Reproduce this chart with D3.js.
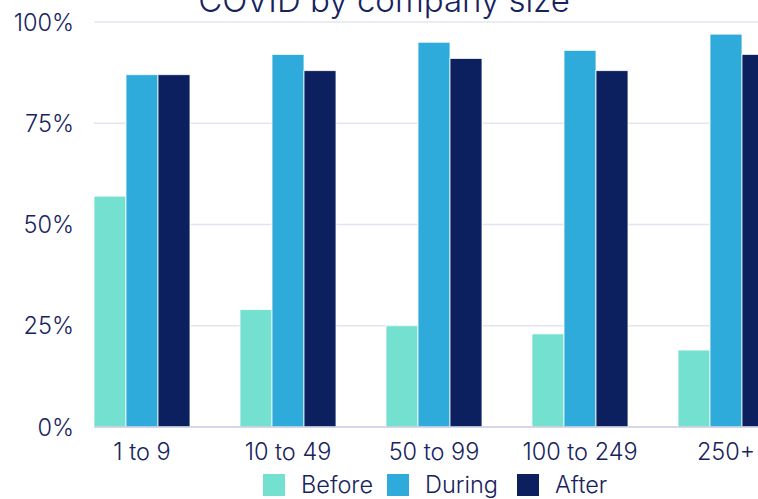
<!DOCTYPE html>
<html>
<head>
<meta charset="utf-8">
<script src="https://cdn.jsdelivr.net/npm/d3@7"></script>
<style>
  html, body { margin: 0; padding: 0; background: #ffffff; }
  svg { display: block; }
  text { font-family: Inter, Lato, sans-serif; font-weight: 400; fill: #17235e; }
</style>
</head>
<body>
<div id="chart"></div>
<script>
// Share of companies offering remote work, by company size
const categories = ["1 to 9", "10 to 49", "50 to 99", "100 to 249", "250+"];
const seriesNames = ["Before", "During", "After"];
const beforeValues = [57, 29, 25, 23, 19];
const duringValues = [87, 92, 95, 93, 97];
const afterValues  = [87, 88, 91, 88, 92];
const yTicks = [0, 25, 50, 75, 100];
const titleText = "COVID by company size";

const colors = { Before: "#74e0cf", During: "#2eabdb", After: "#0c1f5f" };
const FONT = "Inter, Lato, sans-serif";
const LABEL_SIZE = 23.5;

const W = 758, H = 499;
const rows = categories.map((c, i) => ({
  category: c,
  Before: beforeValues[i],
  During: duringValues[i],
  After: afterValues[i]
}));

const svg = d3.select("#chart").append("svg")
  .attr("width", W).attr("height", H);

const plotLeft = 94, step = 146, groupW = 96;
const x = d3.scaleBand()
  .domain(categories)
  .range([plotLeft, plotLeft + categories.length * step - (step - groupW)])
  .paddingInner((step - groupW) / step)
  .paddingOuter(0);

const xs = d3.scaleBand()
  .domain(seriesNames)
  .range([0, x.bandwidth()])
  .padding(0);

const y = d3.scaleLinear().domain([0, 100]).range([427, 22]);

// gridlines
svg.append("g")
  .selectAll("line")
  .data(yTicks.filter(t => t > 0))
  .join("line")
  .attr("x1", plotLeft).attr("x2", W)
  .attr("y1", d => y(d)).attr("y2", d => y(d))
  .attr("stroke", "#e4e4f1").attr("stroke-width", 1.5);

// y axis labels
const yAxis = svg.append("g")
  .attr("transform", `translate(${plotLeft - 20},0)`)
  .call(d3.axisLeft(y).tickValues(yTicks).tickFormat(d => d + "%").tickSize(0).tickPadding(0));
yAxis.select(".domain").remove();
yAxis.selectAll("text")
  .attr("font-size", LABEL_SIZE)
  .attr("dy", "0.35em")
  .style("font-family", FONT)
  .style("font-weight", 300)
  .style("fill", "#17235e");

// bars
const groups = svg.append("g")
  .selectAll("g")
  .data(rows)
  .join("g")
  .attr("transform", d => `translate(${x(d.category)},0)`);

groups.selectAll("rect")
  .data(d => seriesNames.map(k => ({ key: k, value: d[k] })))
  .join("rect")
  .attr("x", d => xs(d.key))
  .attr("width", xs.bandwidth())
  .attr("y", d => y(d.value))
  .attr("height", d => y(0) - y(d.value))
  .attr("fill", d => colors[d.key])
  .attr("stroke", "#ffffff")
  .attr("stroke-opacity", 0.8)
  .attr("stroke-width", 1);

// baseline
svg.append("line")
  .attr("x1", plotLeft).attr("x2", W)
  .attr("y1", y(0)).attr("y2", y(0))
  .attr("stroke", "#c9cbe0").attr("stroke-width", 1.5);

// x axis labels
const xAxis = svg.append("g")
  .attr("transform", `translate(0,${y(0)})`)
  .call(d3.axisBottom(x).tickSize(0).tickPadding(0));
xAxis.select(".domain").remove();
xAxis.selectAll("text")
  .attr("y", 25)
  .attr("dy", "0.35em")
  .attr("font-size", LABEL_SIZE)
  .style("font-family", FONT)
  .style("font-weight", 300)
  .style("fill", "#17235e");

// title
svg.append("text")
  .attr("x", 384).attr("y", 12)
  .attr("text-anchor", "middle")
  .attr("font-size", 33)
  .style("font-weight", 300)
  .text(titleText);

// legend
const legendX = [263, 387, 517];
const legend = svg.append("g")
  .selectAll("g")
  .data(seriesNames)
  .join("g")
  .attr("transform", (d, i) => `translate(${legendX[i]},474)`);
legend.append("rect")
  .attr("width", 22).attr("height", 22)
  .attr("fill", d => colors[d]);
legend.append("text")
  .attr("x", 38).attr("y", 11)
  .attr("dy", "0.35em")
  .attr("font-size", LABEL_SIZE)
  .style("font-weight", 300)
  .text(d => d);
</script>
</body>
</html>
